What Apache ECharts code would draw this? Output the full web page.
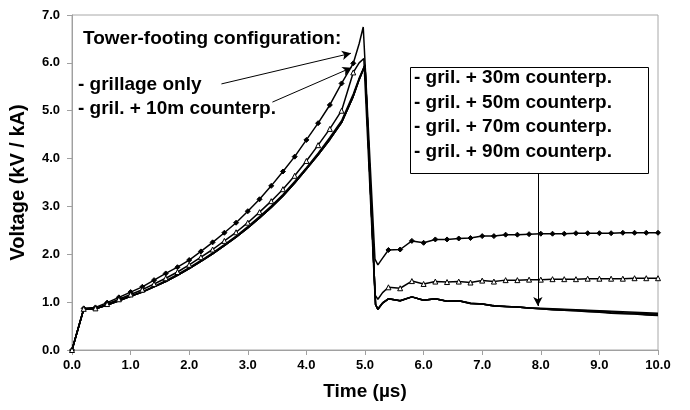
<!DOCTYPE html>
<html><head><meta charset="utf-8">
<script src="https://cdn.jsdelivr.net/npm/echarts@6/dist/echarts.min.js"></script>
<style>html,body{margin:0;padding:0;background:#fff}#c{width:690px;height:410px}</style>
</head><body><div id="c"></div>
<script>
// ---- data ----
const timesD = [0,0.2,0.4,0.6,0.8,1.0,1.2,1.4,1.6,1.8,2.0,2.2,2.4,2.6,2.8,3.0,3.2,3.4,3.6,3.8,4.0,4.2,4.4,4.6,4.8,4.9,4.97,5.17,5.22,5.3,5.4,5.6,5.8,6.0,6.2,6.4,6.6,6.8,7.0,7.2,7.4,7.6,7.8,8.0,8.2,8.4,8.6,8.8,9.0,9.2,9.4,9.6,9.8,10.0];
const grillageOnly = [0,0.87,0.89,0.99,1.10,1.21,1.32,1.46,1.60,1.73,1.88,2.06,2.25,2.45,2.66,2.90,3.15,3.43,3.73,4.04,4.39,4.74,5.12,5.57,5.99,6.40,6.75,1.90,1.78,1.92,2.09,2.10,2.28,2.24,2.31,2.31,2.33,2.34,2.38,2.38,2.41,2.41,2.42,2.43,2.43,2.43,2.44,2.44,2.44,2.44,2.45,2.45,2.45,2.45];

const timesM = [0,0.2,0.4,0.6,0.8,1.0,1.2,1.4,1.6,1.8,2.0,2.2,2.4,2.6,2.8,3.0,3.2,3.4,3.6,3.8,4.0,4.2,4.4,4.6,4.8,4.9,4.98,5.17,5.22,5.3,5.4,5.6,5.8,6.0,6.2,6.4,6.6,6.8,7.0,7.2,7.4,7.6,7.8,8.0,8.2,8.4,8.6,8.8,9.0,9.2,9.4,9.6,9.8,10.0];
const gril10m = [0,0.86,0.87,0.96,1.06,1.16,1.26,1.38,1.50,1.63,1.78,1.94,2.10,2.28,2.46,2.66,2.88,3.11,3.36,3.64,3.95,4.28,4.62,5.00,5.80,6.00,6.09,1.15,1.06,1.20,1.31,1.29,1.44,1.38,1.43,1.42,1.43,1.41,1.45,1.43,1.46,1.46,1.47,1.47,1.48,1.48,1.48,1.49,1.49,1.49,1.49,1.50,1.50,1.50];

const timesL = [0,0.2,0.4,0.6,0.8,1.0,1.2,1.4,1.6,1.8,2.0,2.2,2.4,2.6,2.8,3.0,3.2,3.4,3.6,3.8,4.0,4.2,4.4,4.6,4.8,4.9,5.0,5.18,5.22,5.3,5.4,5.6,5.8,6.0,6.2,6.4,6.6,6.8,7.0,7.2,7.4,7.6,7.8,8.0,8.2,8.4,8.6,8.8,9.0,9.2,9.4,9.6,9.8,10.0];
const gril30m = [0,0.85,0.86,0.94,1.04,1.13,1.22,1.33,1.45,1.58,1.72,1.87,2.03,2.20,2.38,2.58,2.79,3.01,3.25,3.52,3.81,4.11,4.44,4.79,5.35,5.68,5.96,0.95,0.86,0.99,1.07,1.03,1.11,1.04,1.07,1.02,1.03,0.98,0.96,0.93,0.91,0.90,0.88,0.87,0.86,0.85,0.84,0.83,0.82,0.81,0.80,0.79,0.78,0.77];
const gril50m = [0,0.85,0.86,0.94,1.03,1.12,1.21,1.32,1.43,1.56,1.70,1.85,2.01,2.18,2.36,2.55,2.76,2.98,3.22,3.49,3.78,4.08,4.40,4.75,5.30,5.65,5.95,0.95,0.85,0.98,1.07,1.03,1.11,1.04,1.07,1.02,1.03,0.97,0.96,0.92,0.91,0.90,0.88,0.86,0.85,0.84,0.83,0.82,0.81,0.80,0.78,0.77,0.76,0.75];
const gril70m = [0,0.85,0.86,0.94,1.03,1.12,1.21,1.32,1.43,1.56,1.70,1.85,2.01,2.18,2.36,2.55,2.76,2.98,3.22,3.49,3.78,4.08,4.40,4.75,5.30,5.65,5.95,0.95,0.85,0.98,1.07,1.03,1.11,1.04,1.07,1.02,1.03,0.97,0.96,0.92,0.91,0.90,0.88,0.86,0.84,0.83,0.82,0.81,0.80,0.78,0.77,0.76,0.74,0.73];
const gril90m = [0,0.85,0.86,0.94,1.03,1.12,1.21,1.32,1.43,1.56,1.70,1.85,2.01,2.18,2.36,2.55,2.76,2.98,3.22,3.49,3.78,4.08,4.40,4.75,5.30,5.65,5.95,0.95,0.85,0.98,1.07,1.03,1.11,1.04,1.07,1.02,1.03,0.97,0.96,0.92,0.91,0.90,0.88,0.86,0.84,0.83,0.82,0.80,0.79,0.77,0.76,0.75,0.73,0.72];

const xTicks = [0,1,2,3,4,5,6,7,8,9,10];
const yTicks = [0,1,2,3,4,5,6,7];
const titleText = 'Tower-footing configuration:';
const leftLabels = ['- grillage only', '- gril. + 10m counterp.'];
const boxLabels = ['- gril. + 30m counterp.', '- gril. + 50m counterp.', '- gril. + 70m counterp.', '- gril. + 90m counterp.'];

// ---- chart ----
const FONT = '"Liberation Sans", Arial, sans-serif';
const pair = (ts, vs) => ts.map((t, i) => [t, vs[i]]);
const onMarkerGrid = t => Math.abs(t * 5 - Math.round(t * 5)) < 1e-6;

const chart = echarts.init(document.getElementById('c'), null, {renderer: 'canvas'});

function lineSeries(name, ts, vs, symbol, size, fill) {
  return {
    name, type: 'line', data: pair(ts, vs),
    symbol: symbol,
    symbolSize: v => (symbol === 'none' || !onMarkerGrid(v[0])) ? 0 : size,
    showAllSymbol: true,
    lineStyle: {color: '#000', width: 1.5},
    itemStyle: {color: fill, borderColor: '#000', borderWidth: 1},
    z: 3, animation: false, silent: true
  };
}

const arrowLines = {
  silent: true, animation: false,
  symbol: ['none', 'arrow'], symbolSize: [7, 9],
  lineStyle: {color: '#000', width: 1, type: 'solid'},
  label: {show: false},
  emphasis: {disabled: true},
  data: [
    [{coord: [2.55, 5.56]}, {coord: [4.76, 6.20]}],
    [{coord: [3.42, 5.18]}, {coord: [4.77, 5.90]}],
    [{coord: [7.95, 3.68]}, {coord: [7.95, 0.92]}]
  ]
};

const sD = lineSeries('grillage only', timesD, grillageOnly, 'diamond', 5, '#000');
sD.markLine = arrowLines;

chart.setOption({
  animation: false,
  backgroundColor: '#fff',
  textStyle: {fontFamily: FONT},
  grid: {left: 69, right: 32, top: 15, bottom: 60, show: true, borderColor: '#a8a8a8', borderWidth: 1, backgroundColor: 'transparent'},
  xAxis: {
    type: 'value', min: xTicks[0], max: xTicks[xTicks.length - 1], interval: 1,
    name: 'Time (\u00b5s)', nameLocation: 'middle', nameGap: 32,
    nameTextStyle: {fontFamily: FONT, fontWeight: 'bold', fontSize: 19, color: '#000'},
    axisLine: {lineStyle: {color: '#a0a0a0', width: 1}},
    axisTick: {show: true, length: 5, lineStyle: {color: '#a0a0a0'}},
    axisLabel: {fontFamily: FONT, fontWeight: 'bold', fontSize: 13, color: '#000', margin: 9, formatter: v => v.toFixed(1)},
    splitLine: {show: false}
  },
  yAxis: {
    type: 'value', min: yTicks[0], max: yTicks[yTicks.length - 1], interval: 1,
    name: 'Voltage (kV / kA)', nameLocation: 'middle', nameGap: 44, nameRotate: 90,
    nameTextStyle: {fontFamily: FONT, fontWeight: 'bold', fontSize: 20, color: '#000'},
    axisLine: {show: true, lineStyle: {color: '#a0a0a0', width: 1}},
    axisTick: {show: true, length: 5, lineStyle: {color: '#a0a0a0'}},
    axisLabel: {fontFamily: FONT, fontWeight: 'bold', fontSize: 13, color: '#000', margin: 12, formatter: v => v.toFixed(1)},
    splitLine: {show: false}
  },
  graphic: [
    {type: 'text', left: 83, top: 29, style: {text: titleText, font: 'bold 19px ' + FONT, fill: '#000'}},
    {type: 'text', left: 78, top: 75, style: {text: leftLabels[0], font: 'bold 19px ' + FONT, fill: '#000'}},
    {type: 'text', left: 78, top: 99, style: {text: leftLabels[1], font: 'bold 19px ' + FONT, fill: '#000'}},
    {type: 'rect', left: 410, top: 67, shape: {width: 238, height: 106}, style: {fill: '#fff', stroke: '#000', lineWidth: 1}, z: 10},
    ...boxLabels.map((t, i) => ({type: 'text', left: 414, top: 68 + i * 24.8, z: 11, style: {text: t, font: 'bold 19px ' + FONT, fill: '#000'}}))
  ],
  series: [
    sD,
    lineSeries('gril. + 10m counterp.', timesM, gril10m, 'triangle', 5, '#fff'),
    lineSeries('gril. + 30m counterp.', timesL, gril30m, 'none', 0, '#000'),
    lineSeries('gril. + 50m counterp.', timesL, gril50m, 'none', 0, '#000'),
    lineSeries('gril. + 70m counterp.', timesL, gril70m, 'none', 0, '#000'),
    lineSeries('gril. + 90m counterp.', timesL, gril90m, 'none', 0, '#000')
  ]
});
</script>
</body></html>
